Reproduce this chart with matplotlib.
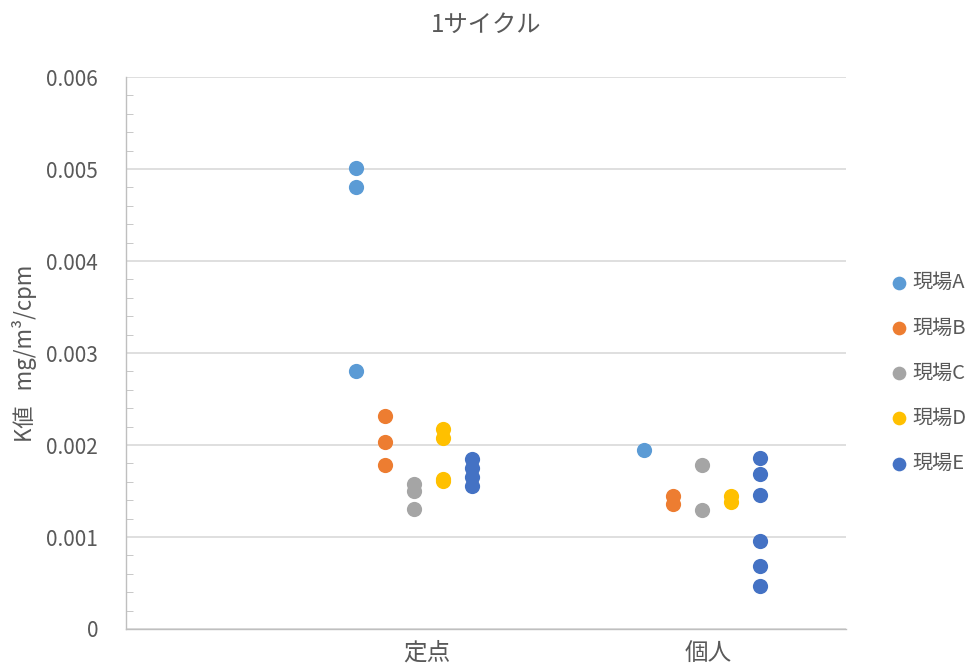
import matplotlib.pyplot as plt
from matplotlib.ticker import MultipleLocator

plt.rcParams["font.family"] = ["Noto Sans CJK JP", "DejaVu Sans"]

# category positions: 定点 = 1, 個人 = 2; each site is shifted by a fixed offset
categories = ["定点", "個人"]
sites = ["現場A", "現場B", "現場C", "現場D", "現場E"]
colors = ["#5B9BD5", "#ED7D31", "#A5A5A5", "#FFC000", "#4472C4"]
yticks = [0, 0.001, 0.002, 0.003, 0.004, 0.005, 0.006]
yticklabels = ["0", "0.001", "0.002", "0.003", "0.004", "0.005", "0.006"]

teiten = {
    "現場A": [0.00501, 0.00481, 0.00280],
    "現場B": [0.00232, 0.00203, 0.00178],
    "現場C": [0.00158, 0.00150, 0.00130],
    "現場D": [0.00217, 0.00208, 0.00163, 0.00161],
    "現場E": [0.00185, 0.00175, 0.00165, 0.00155],
}
kojin = {
    "現場A": [0.00195],
    "現場B": [0.00145, 0.00136],
    "現場C": [0.00178, 0.00129],
    "現場D": [0.00145, 0.00138],
    "現場E": [0.00186, 0.00168, 0.00146, 0.00096, 0.00069, 0.00047],
}

fig = plt.figure(figsize=(9.73, 6.71), dpi=100)
ax = fig.add_axes([0.1295, 0.0626, 0.74, 0.8226])

offsets = [-0.2, -0.1, 0.0, 0.1, 0.2]
for site, color, off in zip(sites, colors, offsets):
    xs = [1 + off] * len(teiten[site]) + [2 + off] * len(kojin[site])
    ys = teiten[site] + kojin[site]
    ax.scatter(xs, ys, s=120, color=color, label=site, zorder=3, linewidths=0)

ax.set_xlim(0, 2.5)
ax.set_ylim(0, 0.006)
# the category labels sit a little right of the centre column
ax.set_xticks([1.045, 2.021])
ax.set_xticklabels(categories, fontsize=17, color="#595959")
ax.set_yticks(yticks)
ax.set_yticklabels(yticklabels)
ax.yaxis.set_minor_locator(MultipleLocator(0.0002))
ax.tick_params(axis="y", which="major", length=0, pad=20, labelsize=15, labelcolor="#595959")
ax.tick_params(axis="y", which="minor", direction="in", length=5, color="#BFBFBF")
ax.tick_params(axis="x", length=0, pad=9)
ax.grid(axis="y", which="major", color="#D9D9D9", lw=1.2)
ax.set_axisbelow(True)
for side in ["top", "right"]:
    ax.spines[side].set_visible(False)
for side in ["left", "bottom"]:
    ax.spines[side].set_color("#BFBFBF")
    ax.spines[side].set_linewidth(1)

ax.set_ylabel("K値   mg/m³/cpm", fontsize=16, color="#595959", labelpad=7)
fig.suptitle("1サイクル", x=0.5, y=0.982, fontsize=17.5, color="#595959")

ax.legend(loc="center left", bbox_to_anchor=(0.905, 0.444), bbox_transform=fig.transFigure,
          frameon=False, fontsize=14.5, labelspacing=1.2, handlelength=0.8,
          handletextpad=0.3, borderpad=0, markerscale=0.9, labelcolor="#595959")

fig.savefig("out.png", dpi=100)
